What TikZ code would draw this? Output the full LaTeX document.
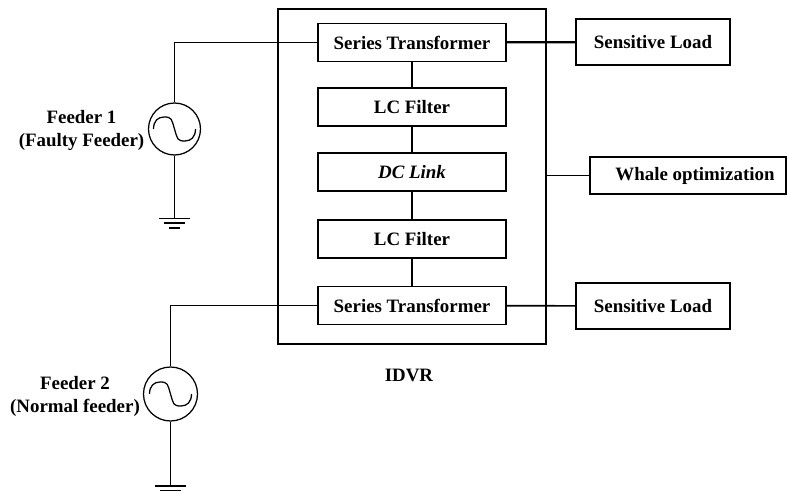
\documentclass[tikz,border=0pt]{standalone}
\usepackage{fontspec}
\setmainfont{Liberation Serif}
\tikzset{
	block/.style={draw, line width=1.25pt, fill=white, inner sep=0pt, font=\fontsize{18.9pt}{21pt}\selectfont\bfseries},
	source/.style={draw, circle, line width=1.25pt, fill=white, inner sep=0pt},
	wire/.style={line width=1.6pt},
	feedwire/.style={line width=1.9pt},
	label/.style={align=center, font=\fontsize{18.9pt}{23pt}\selectfont\bfseries},
}
\newcommand{\acwave}[1]{\draw[line width=1.25pt] ([xshift=-21pt]#1.center) .. controls +(0,8pt) and +(-6pt,0) .. ([xshift=-10.5pt,yshift=12pt]#1.center) .. controls +(8pt,0) and +(-3pt,10pt) .. (#1.center) .. controls +(3pt,-10pt) and +(-8pt,0) .. ([xshift=10.5pt,yshift=-12pt]#1.center) .. controls +(6pt,0) and +(0,-8pt) .. ([xshift=21pt]#1.center);}
\newcommand{\earth}[1]{
	\draw[wire] ([xshift=-15.5pt]#1) -- ([xshift=15.5pt]#1);
	\draw[wire] ([xshift=-10.5pt,yshift=-4.8pt]#1) -- ([xshift=10.5pt,yshift=-4.8pt]#1);
	\draw[wire] ([xshift=-5.5pt,yshift=-9.6pt]#1) -- ([xshift=5.5pt,yshift=-9.6pt]#1);
}
\begin{document}
\begin{tikzpicture}
	\useasboundingbox (0,0) rectangle (787pt,-495pt);
	% outer box
	\node[block, minimum width=268pt, minimum height=335pt] (idvr) at (412pt,-176.5pt) {};
	\node[label] (idvrlabel) at (409pt,-375pt) {IDVR};
	% inner chain
	\node[block, minimum width=188pt, minimum height=38pt] (seriesa) at (412pt,-42.5pt) {Series Transformer};
	\node[block, minimum width=188pt, minimum height=38pt] (filtera) at (412pt,-107pt) {LC Filter};
	\node[block, minimum width=188pt, minimum height=38pt] (dclink) at (412pt,-172pt) {\itshape DC Link};
	\node[block, minimum width=188pt, minimum height=38pt] (filterb) at (412pt,-239pt) {LC Filter};
	\node[block, minimum width=188pt, minimum height=38pt] (seriesb) at (412pt,-305.5pt) {Series Transformer};
	\draw[wire] (seriesa) -- (filtera);
	\draw[wire] (filtera) -- (dclink);
	\draw[wire] (dclink) -- (filterb);
	\draw[wire] (filterb) -- (seriesb);
	% right side
	\node[block, minimum width=154pt, minimum height=46pt] (loada) at (653pt,-42pt) {Sensitive Load};
	\node[block, minimum width=154pt, minimum height=46pt] (loadb) at (653pt,-306pt) {Sensitive Load};
	\node[block, minimum width=196pt, minimum height=37pt] (whale) at (688pt,-175.5pt) {\hspace*{14pt}Whale optimization};
	\draw[line width=2.2pt] (seriesa) -- (loada);
	\draw[wire] (seriesb) -- (loadb);
	\draw[wire] (idvr.east |- whale) -- (whale);
	% feeders
	\node[source, minimum size=52pt] (srca) at (174.5pt,-129pt) {};
	\node[source, minimum size=54pt] (srcb) at (170.5pt,-394pt) {};
	\acwave{srca}
	\acwave{srcb}
	\node[label] (feedera) at (81.5pt,-130.5pt) {Feeder 1\\(Faulty Feeder)};
	\node[label] (feederb) at (75pt,-396.5pt) {Feeder 2\\(Normal feeder)};
	\draw[feedwire] (seriesa.west) -| (srca.north);
	\draw[feedwire] (seriesb.west) -| (srcb.north);
	\coordinate (gnda) at (174.5pt,-218.3pt);
	\coordinate (gndb) at (170.5pt,-485.7pt);
	\draw[feedwire] (srca.south) -- (gnda);
	\draw[feedwire] (srcb.south) -- (gndb);
	\earth{gnda}
	\earth{gndb}
\end{tikzpicture}
\end{document}
